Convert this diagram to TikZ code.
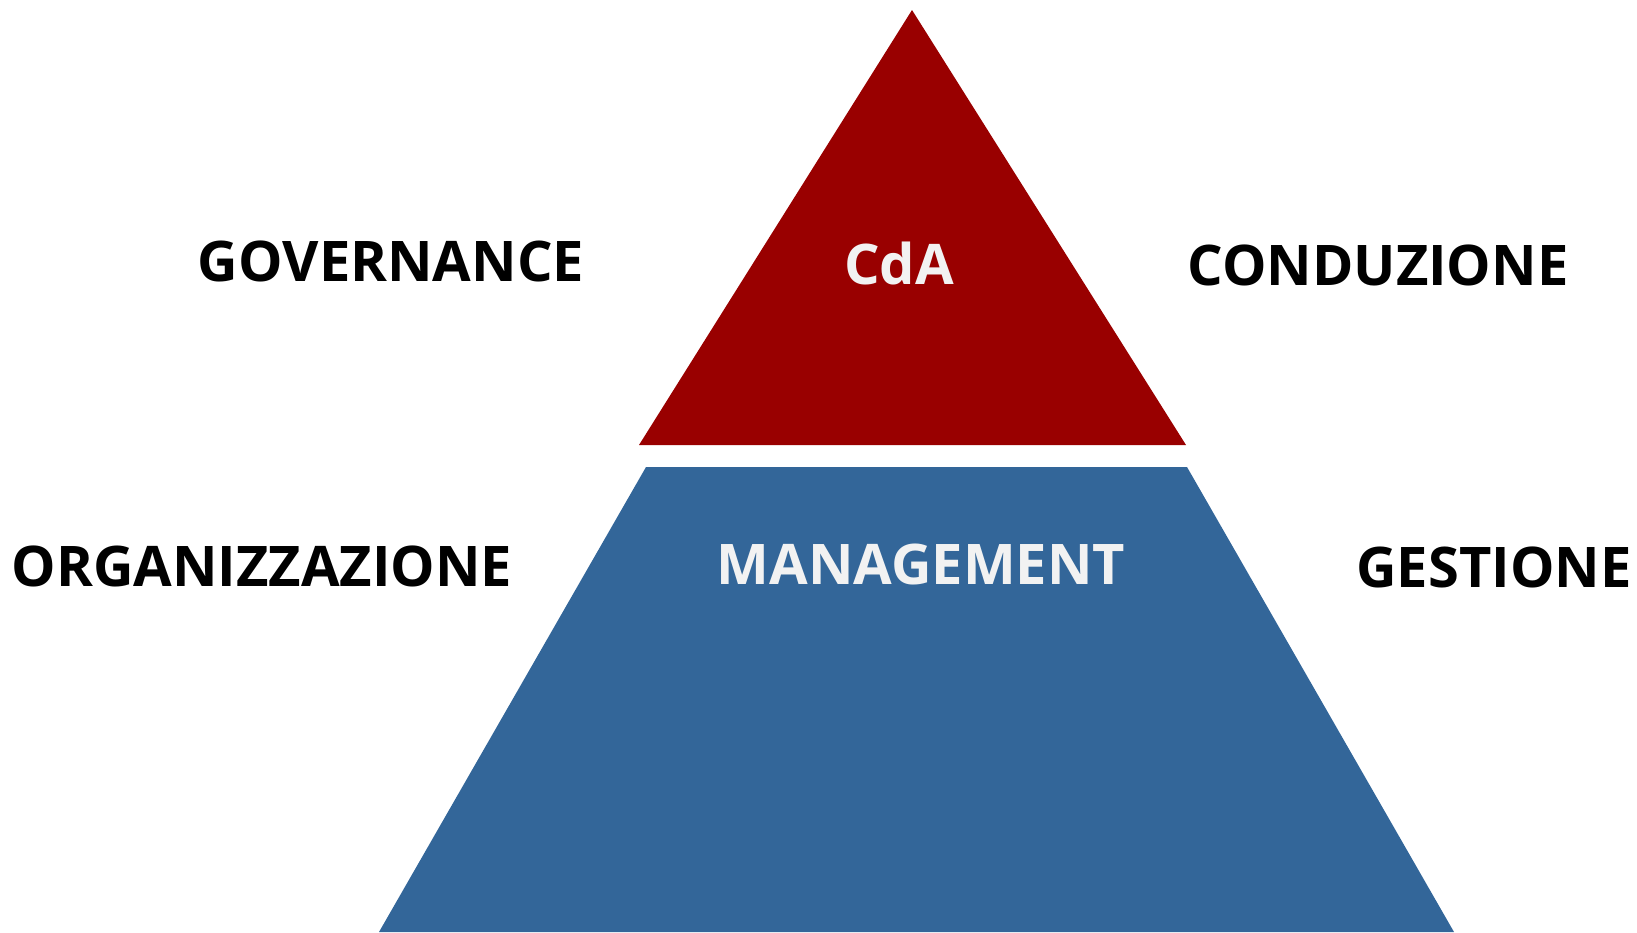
\documentclass[tikz,border=0pt]{standalone}
\usepackage{fontspec}
\setmainfont{Open Sans}[BoldFont={Open Sans Bold}]
\definecolor{cdared}{HTML}{990000}
\definecolor{mgmtblue}{HTML}{336699}
\definecolor{lighttext}{HTML}{F2F2F2}
\begin{document}
\begin{tikzpicture}[x=0.5pt,y=-0.5pt,
  lbl/.style={font=\bfseries\fontsize{28}{30}\selectfont, inner sep=0pt, anchor=base},
  darklbl/.style={lbl, text=black},
  lightlbl/.style={lbl, text=lighttext}]
\useasboundingbox (0,0) rectangle (1637,932);
% top triangle
\coordinate (apex) at (912,10);
\coordinate (tl) at (639,445);
\coordinate (tr) at (1186,445);
\fill[cdared] (apex) -- (tr) -- (tl) -- cycle;
% bottom trapezoid
\coordinate (bl1) at (646,467);
\coordinate (br1) at (1187,467);
\coordinate (br2) at (1454,932);
\coordinate (bl2) at (379,932);
\fill[mgmtblue] (bl1) -- (br1) -- (br2) -- (bl2) -- cycle;
% labels
\node[lightlbl] (cda) at (899,284) {CdA};
\node[lightlbl] (mgmt) at (921,584) {MANAGEMENT};
\node[darklbl] (gov) at (391,281) {GOVERNANCE};
\node[darklbl] (cond) at (1378,285) {CONDUZIONE};
\node[darklbl] (org) at (262,586) {ORGANIZZAZIONE};
\node[darklbl] (gest) at (1494,587) {GESTIONE};
\end{tikzpicture}
\end{document}
